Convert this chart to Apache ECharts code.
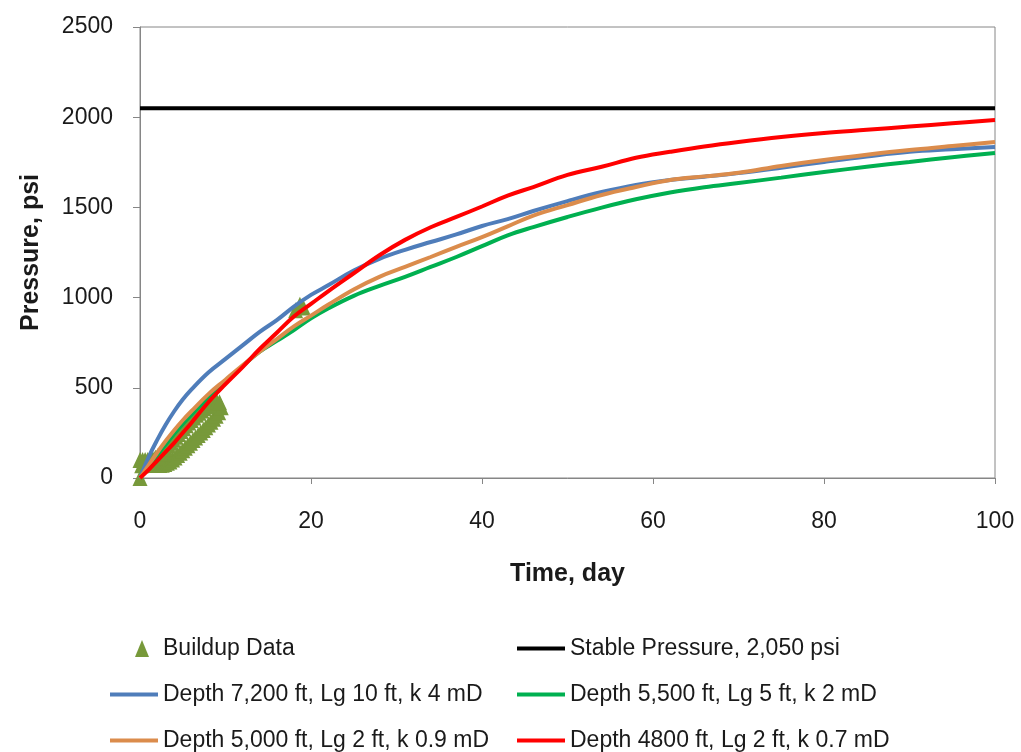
<!DOCTYPE html>
<html>
<head>
<meta charset="utf-8">
<script src="https://cdn.jsdelivr.net/npm/echarts@6/dist/echarts.min.js"></script>
<style>html,body{margin:0;padding:0;background:#fff}#c{width:1021px;height:752px}</style>
</head>
<body>
<div id="c"></div>
<script>
// ---- data ----
const xTicks = [0, 20, 40, 60, 80, 100];
const yTicks = [0, 500, 1000, 1500, 2000, 2500];
const days = [0,1,2,3,4,5,6,8,10,12,14,16,18,20,22,25,28,31,34,37,40,43,46,50,54,58,62,66,70,75,80,85,90,95,100];
const depth7200 = [0,115,210,295,370,435,490,585,660,735,810,875,950,1015,1068,1150,1215,1265,1308,1350,1397,1435,1480,1535,1585,1625,1652,1670,1690,1720,1752,1782,1808,1822,1835];
const depth5500 = [0,60,125,185,245,300,350,445,530,620,700,760,820,885,940,1010,1065,1115,1170,1225,1285,1345,1391,1447,1499,1545,1583,1612,1635,1665,1696,1725,1752,1778,1801];
const depth5000 = [0,70,140,205,265,320,370,465,545,625,700,770,840,900,960,1045,1115,1170,1225,1281,1335,1395,1455,1513,1569,1613,1652,1672,1692,1730,1763,1792,1818,1840,1863];
const depth4800 = [0,45,95,145,195,250,305,420,520,615,715,805,895,965,1035,1135,1235,1320,1390,1447,1505,1565,1613,1680,1725,1775,1808,1838,1863,1890,1912,1930,1948,1966,1984];
const stableDays = [0, 100];
const stablePressure = [2050, 2050];
const buildupDays = [0,0.2,0.5,0.8,1.1,1.4,1.7,2.0,2.3,2.6,2.9,3.2,3.5,3.8,4.1,4.4,4.7,5.0,5.3,5.6,5.9,6.2,6.5,6.8,7.1,7.4,7.7,8.0,8.3,8.6,8.9,9.2,9.5,
  0,0.3,0.6,0.9,1.2,1.5,1.8,2.1,2.4,2.7,3.0,3.3,3.6,3.9,4.2,4.5,4.8,5.1,5.4,5.7,6.0,6.3,6.6,6.9,7.2,7.5,7.8,8.1,8.4,8.7,9.0,9.3,
  18.2,18.7,19.1];
const buildupPressure = [0,70,72,72,72,72,72,72,72,74,78,84,92,102,114,127,140,154,168,182,196,210,224,238,252,266,281,296,312,328,345,365,392,
  100,100,100,100,102,106,112,122,135,150,165,180,196,212,228,244,260,276,292,308,322,336,350,362,374,386,398,408,416,420,422,420,
  930,960,945];

const names = {
  buildup: 'Buildup Data',
  stable: 'Stable Pressure, 2,050 psi',
  d7200: 'Depth 7,200 ft, Lg 10 ft, k 4 mD',
  d5500: 'Depth 5,500 ft, Lg 5 ft, k 2 mD',
  d5000: 'Depth 5,000 ft, Lg 2 ft, k 0.9 mD',
  d4800: 'Depth 4800 ft, Lg 2 ft, k 0.7 mD'
};

const zip = (xs, ys) => xs.map((x, i) => [x, ys[i]]);
const FONT = '"Liberation Sans", Arial, sans-serif';
const TXT = '#1a1a1a';

function lineSeries(name, ys, color, w) {
  return {
    name, type: 'line', data: zip(days, ys), symbol: 'none', showSymbol: false, smooth: 0.4,
    lineStyle: { color, width: w || 4 }, itemStyle: { color }, z: 3
  };
}

function legendItem(name, left, top, isTri) {
  return {
    data: [isTri ? { name, icon: 'triangle' } : { name, icon: 'rect' }],
    left, top, orient: 'horizontal', selectedMode: false,
    itemWidth: isTri ? 14 : 48, itemHeight: isTri ? 17 : 4,
    textStyle: { fontSize: 23, color: TXT, fontFamily: FONT, padding: isTri ? [0,0,0,9] : 0 }
  };
}

const chart = echarts.init(document.getElementById('c'), null, { renderer: 'canvas' });
chart.setOption({
  animation: false,
  backgroundColor: '#fff',
  textStyle: { fontFamily: FONT },
  grid: { left: 140, right: 26, top: 27, bottom: 274, show: true, borderColor: '#868686', borderWidth: 1, backgroundColor: 'transparent' },
  xAxis: {
    type: 'value', min: xTicks[0], max: xTicks[xTicks.length - 1], interval: xTicks[1] - xTicks[0],
    axisLine: { show: true, lineStyle: { color: '#868686', width: 1 } },
    axisTick: { show: true, inside: false, length: 6, lineStyle: { color: '#868686' } },
    splitLine: { show: false },
    axisLabel: { fontSize: 23, color: TXT, margin: 32, fontFamily: FONT, formatter: v => String(v) },
    name: 'Time, day', nameLocation: 'middle', nameGap: 84,
    nameTextStyle: { fontSize: 25, fontWeight: 'bold', color: TXT, fontFamily: FONT }
  },
  yAxis: {
    type: 'value', min: yTicks[0], max: yTicks[yTicks.length - 1], interval: yTicks[1] - yTicks[0],
    axisLine: { show: true, lineStyle: { color: '#868686', width: 1 } },
    axisTick: { show: true, inside: false, length: 7, lineStyle: { color: '#868686' } },
    splitLine: { show: false },
    axisLabel: { fontSize: 23, color: TXT, margin: 27, fontFamily: FONT, formatter: v => String(v) },
    name: 'Pressure, psi', nameLocation: 'middle', nameGap: 96,
    nameTextStyle: { fontSize: 25, fontWeight: 'bold', color: TXT, fontFamily: FONT }
  },
  legend: [
    legendItem(names.buildup, 130, 632, true),
    legendItem(names.stable, 512, 632),
    legendItem(names.d7200, 105, 678),
    legendItem(names.d5500, 512, 678),
    legendItem(names.d5000, 105, 724),
    legendItem(names.d4800, 512, 724)
  ],
  series: [
    {
      name: names.buildup, type: 'scatter', data: zip(buildupDays, buildupPressure),
      symbol: 'triangle', symbolSize: [15, 16], clip: false,
      itemStyle: { color: '#77993A', opacity: 1 }, z: 2
    },
    {
      name: names.stable, type: 'line', data: zip(stableDays, stablePressure), symbol: 'none', showSymbol: false,
      lineStyle: { color: '#000000', width: 4 }, itemStyle: { color: '#000000' }, z: 3
    },
    lineSeries(names.d7200, depth7200, '#4F7DBA'),
    lineSeries(names.d5500, depth5500, '#00B050'),
    lineSeries(names.d5000, depth5000, '#DB8C4C'),
    lineSeries(names.d4800, depth4800, '#FF0000')
  ]
});
</script>
</body>
</html>
